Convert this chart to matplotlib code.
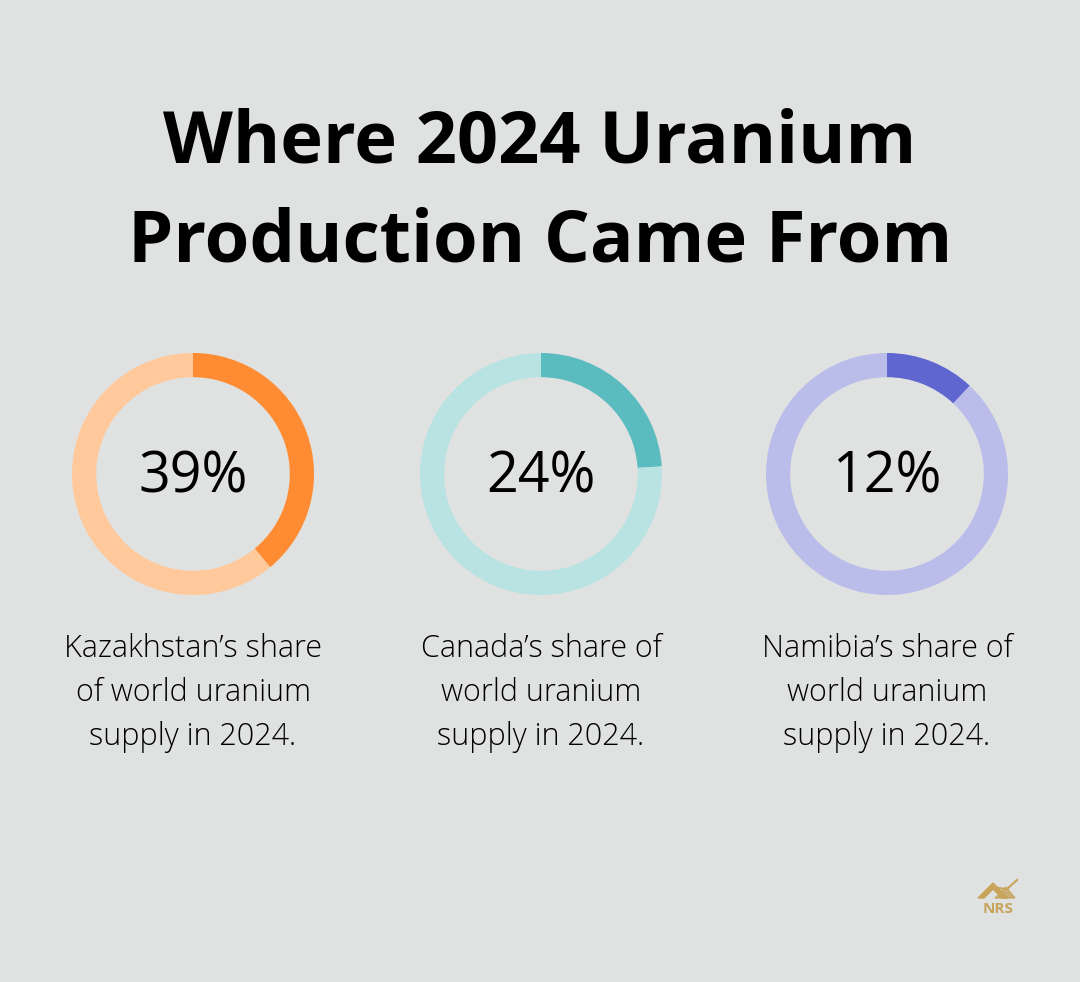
import matplotlib
matplotlib.use("Agg")
import matplotlib.pyplot as plt
from matplotlib.patches import Polygon

countries = ["Kazakhstan", "Canada", "Namibia"]
shares = [39, 24, 12]
captions = [
    "Kazakhstan\u2019s share\nof world uranium\nsupply in 2024.",
    "Canada\u2019s share of\nworld uranium\nsupply in 2024.",
    "Namibia\u2019s share of\nworld uranium\nsupply in 2024.",
]
dark = ["#FF8C33", "#5BBCC0", "#6066D0"]
light = ["#FFC99C", "#B9E2E3", "#BABDEA"]

BG = "#E0E2E1"
W, H = 1080, 982
plt.rcParams["font.family"] = ["Open Sans", "DejaVu Sans"]

fig = plt.figure(figsize=(W / 100, H / 100), dpi=100, facecolor=BG)

fig.text(540 / W, 1 - 193 / H, "Where 2024 Uranium\nProduction Came From",
         ha="center", va="center", fontsize=52, fontweight="bold",
         color="#000000", linespacing=1.49)

cx = [193, 541, 887]
cy = 474
R = 121
for i, (share, cap) in enumerate(zip(shares, captions)):
    ax = fig.add_axes([(cx[i] - R) / W, 1 - (cy + R) / H, 2 * R / W, 2 * R / H])
    ax.pie([share, 100 - share], colors=[dark[i], light[i]], startangle=90,
           counterclock=False, radius=1,
           wedgeprops=dict(width=0.2, linewidth=0))
    ax.set_xlim(-1, 1)
    ax.set_ylim(-1, 1)
    ax.set_aspect("equal")
    ax.axis("off")
    ax.text(0, -0.03, f"{share}%", ha="center", va="center", fontsize=40,
            color="#000000")
    fig.text(cx[i] / W, 1 - 693 / H, cap, ha="center", va="center",
             fontsize=22, fontweight=300, color="#000000", linespacing=1.5)

# small NRS logo
gold = "#C8A35A"
fig.text(998 / W, 1 - 909 / H, "NRS", ha="center", va="center",
         fontsize=11, fontweight="bold", color=gold)
px = lambda x, y: (x / W, 1 - y / H)
fig.add_artist(Polygon([px(978, 898), px(993, 883), px(1008, 898), px(1002, 898),
                        px(993, 889), px(984, 898)],
                       closed=True, color=gold, transform=fig.transFigure))
fig.add_artist(Polygon([px(995, 898), px(1006, 887), px(1015, 898)],
                       closed=True, color=gold, alpha=0.8, transform=fig.transFigure))
fig.add_artist(plt.Line2D([px(998, 888)[0], px(1007, 889)[0], px(1017, 880)[0]],
                          [px(998, 888)[1], px(1007, 889)[1], px(1017, 880)[1]],
                          color=gold, lw=1.5, transform=fig.transFigure))

fig.savefig("out.png", dpi=100, facecolor=BG)
